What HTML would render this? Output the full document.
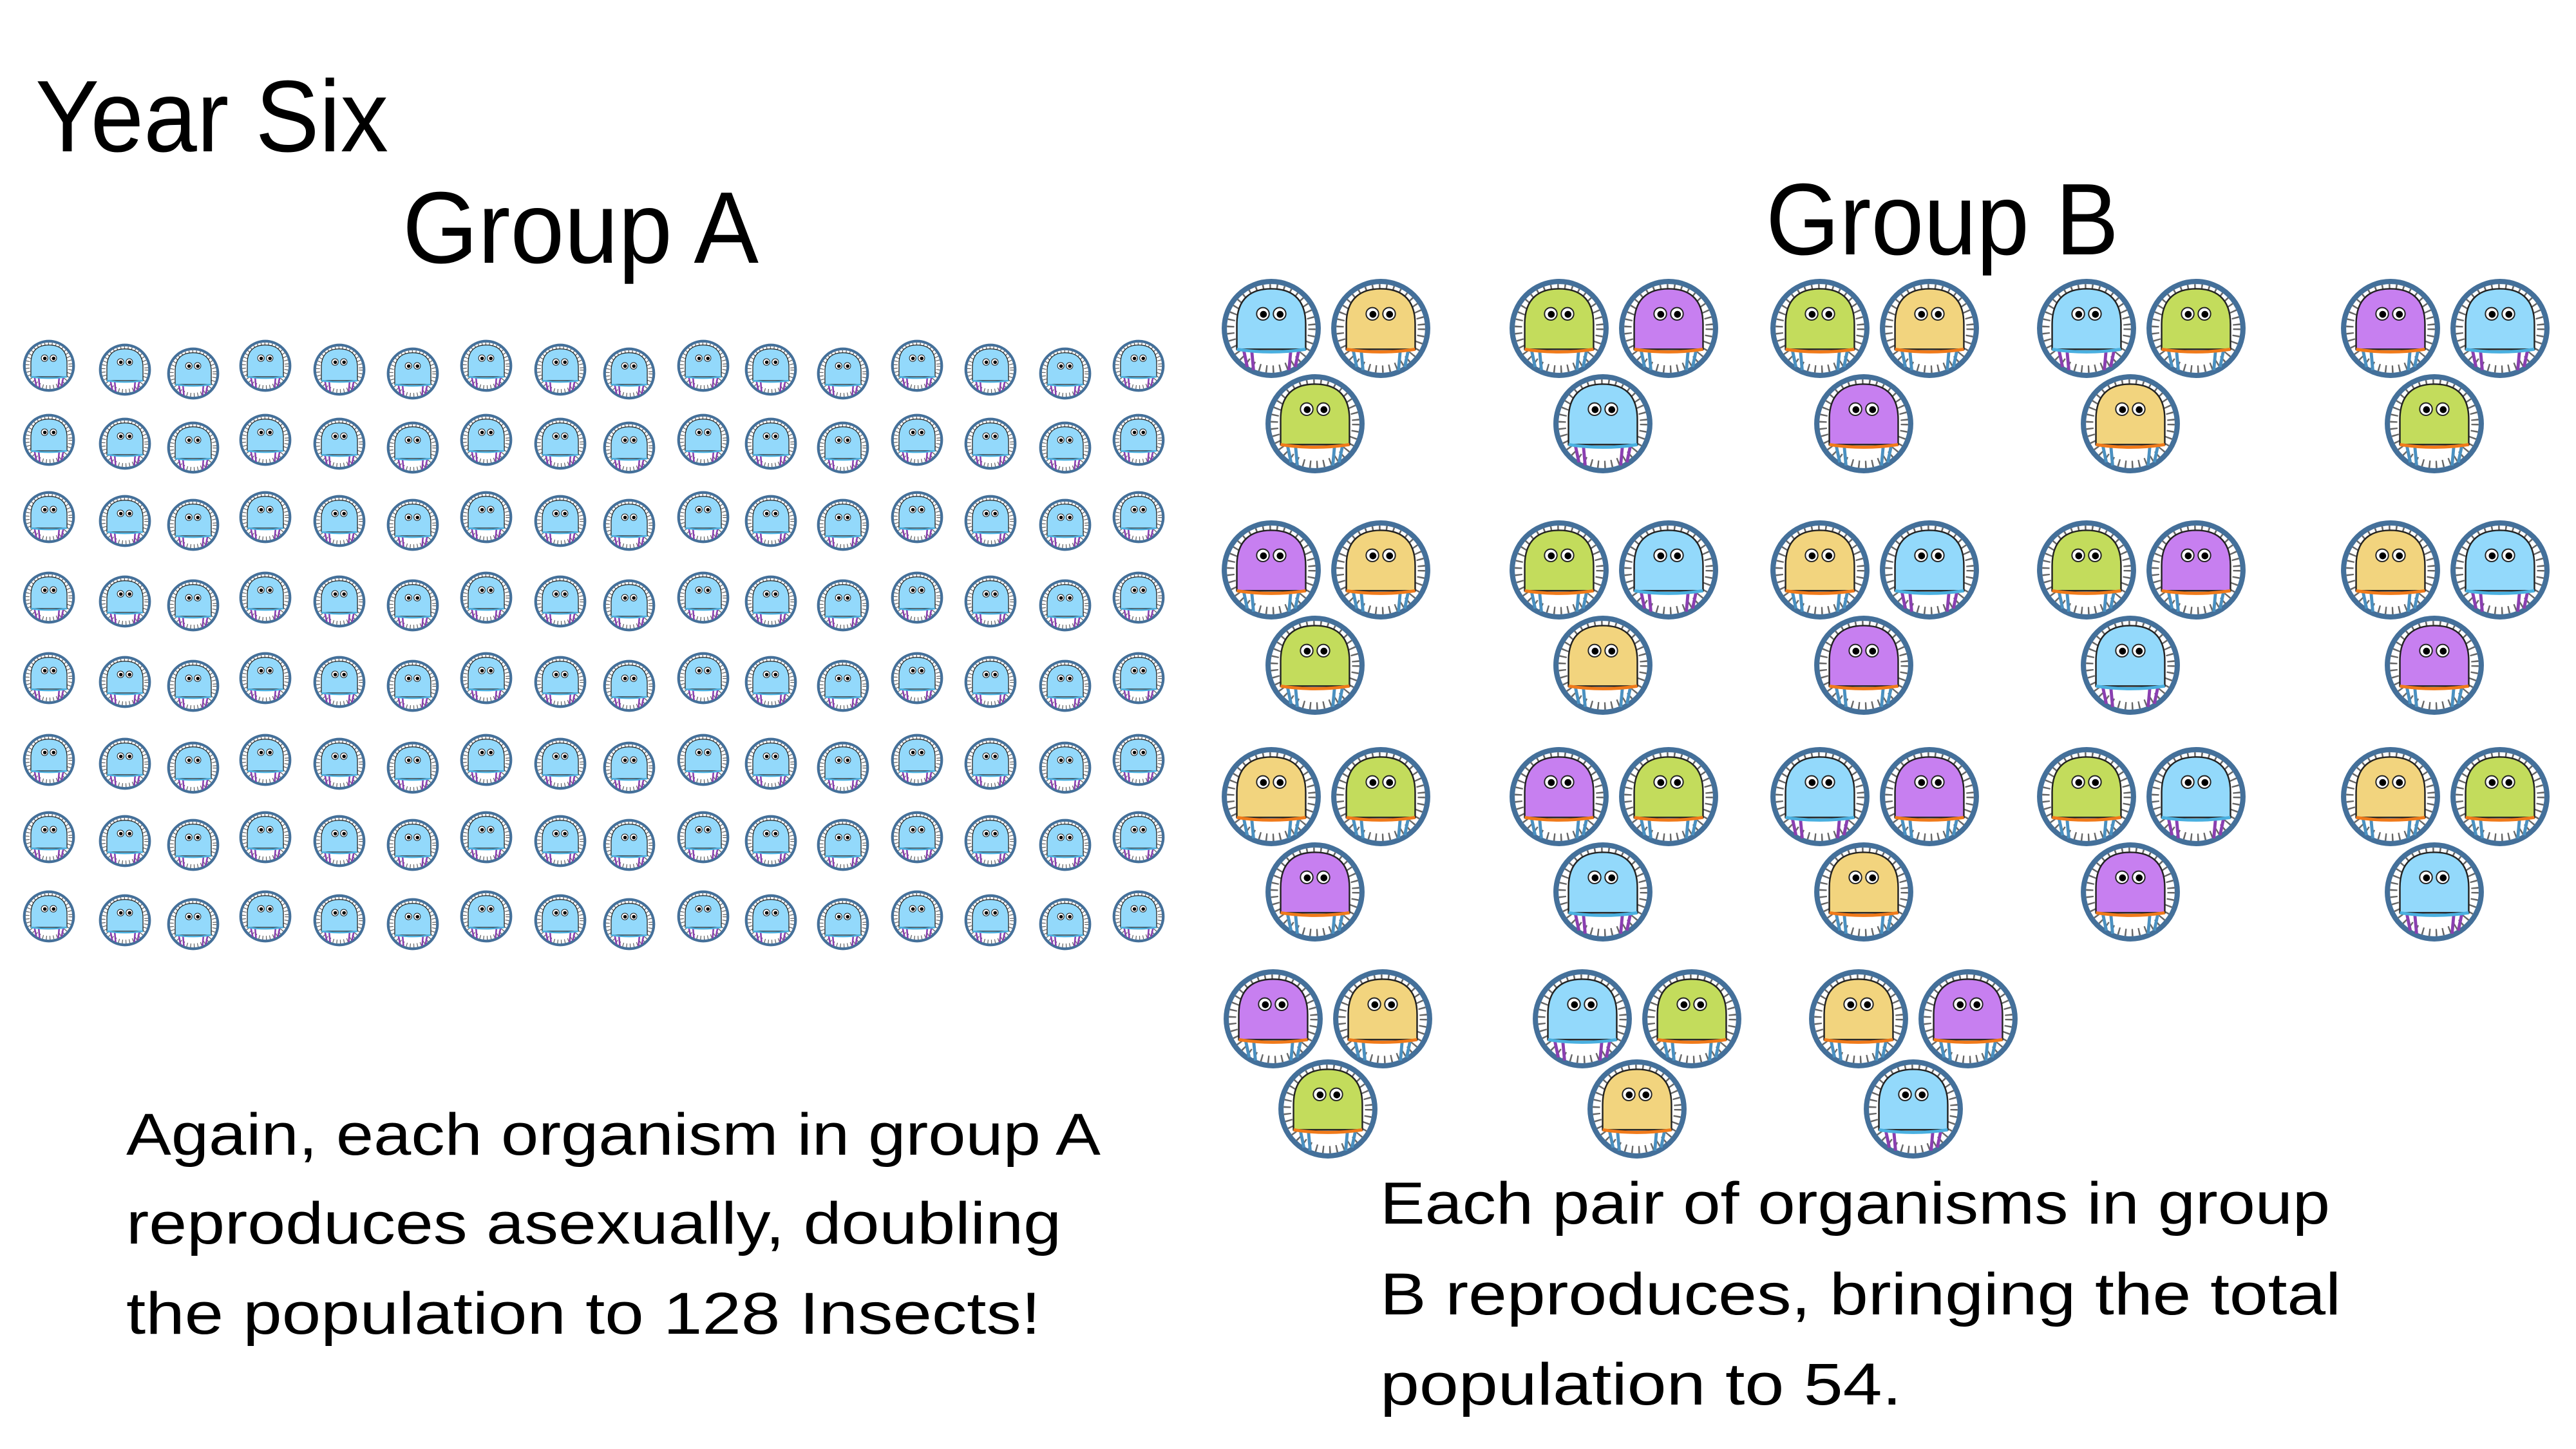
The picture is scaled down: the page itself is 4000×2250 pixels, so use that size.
<!DOCTYPE html>
<html><head><meta charset="utf-8">
<style>
html,body{margin:0;padding:0;background:#fff;width:4000px;height:2250px;overflow:hidden}
svg{display:block}
text{font-family:"Liberation Sans",sans-serif;fill:#000}
</style></head>
<body>
<svg id="s" xmlns="http://www.w3.org/2000/svg" xmlns:xlink="http://www.w3.org/1999/xlink" width="4000" height="2250" viewBox="0 0 4000 2250">
<defs>
<g id="hatch">
  <circle r="40" fill="none" stroke="#777" stroke-width="6" stroke-dasharray="2 5"/>
</g>
<g id="bugbase">
  <circle r="45" fill="#fff" stroke="#44709a" stroke-width="5"/>
  <use xlink:href="#hatch"/>
  <g stroke-width="2.5" fill="none">
    <line x1="-27" y1="18" x2="-22" y2="38" class="leg"/>
    <line x1="-20" y1="18" x2="-17" y2="40" class="leg"/>
    <line x1="20" y1="18" x2="17" y2="40" class="leg"/>
    <line x1="27" y1="18" x2="22" y2="38" class="leg"/>
  </g>
</g>
</defs>
<text x="55" y="235" font-size="158" textLength="548" lengthAdjust="spacingAndGlyphs">Year Six</text>
<text x="625" y="408" font-size="158" textLength="553" lengthAdjust="spacingAndGlyphs">Group A</text>
<text x="2742" y="395" font-size="158" textLength="548" lengthAdjust="spacingAndGlyphs">Group B</text>
<g font-size="92">
<text x="196" y="1793" textLength="1513" lengthAdjust="spacingAndGlyphs">Again, each organism in group A</text>
<text x="196" y="1931" textLength="1452" lengthAdjust="spacingAndGlyphs">reproduces asexually, doubling</text>
<text x="196" y="2071" textLength="1420" lengthAdjust="spacingAndGlyphs">the population to 128 Insects!</text>
<text x="2143" y="1900" textLength="1475" lengthAdjust="spacingAndGlyphs">Each pair of organisms in group</text>
<text x="2143" y="2041" textLength="1492" lengthAdjust="spacingAndGlyphs">B reproduces, bringing the total</text>
<text x="2143" y="2181" textLength="810" lengthAdjust="spacingAndGlyphs">population to 54.</text>
</g>
<g id="bugs"></g>
</svg>
<script>
(function(){
var NS="http://www.w3.org/2000/svg";
var C={B:"#93d9fb",Y:"#f2d47e",G:"#c3dc5c",P:"#c77ff0"};
var L={B:"#8a3fb0",Y:"#4a90c0",G:"#4a90c0",P:"#4a90c0"};
var U={B:"#4ab0e0",Y:"#f07a1a",G:"#f07a1a",P:"#f07a1a"};
var html="";
function bug(x,y,s,c){
  var col=C[c];
  html+='<g transform="translate('+x+','+y+') scale('+s+')">'+
  '<circle r="45" fill="#fff" stroke="#44709a" stroke-width="5"/>'+
  '<circle r="39" fill="none" stroke="#666" stroke-width="7" stroke-dasharray="1.5 5"/>'+
  '<g stroke="'+L[c]+'" stroke-width="3"><line x1="-27" y1="18" x2="-23" y2="37"/><line x1="-19" y1="18" x2="-17" y2="40"/><line x1="19" y1="18" x2="17" y2="40"/><line x1="27" y1="18" x2="23" y2="37"/></g>'+
  '<path d="M-33,20 L-33,-4 C-33,-30 -18,-38 0,-38 C18,-38 33,-30 33,-4 L33,20 Z" fill="'+col+'" stroke="#222" stroke-width="1.5"/>'+
  '<path d="M-33,20 Q0,25 33,20" fill="none" stroke="'+U[c]+'" stroke-width="3"/>'+
  '<circle cx="-8" cy="-14" r="6" fill="#fff" stroke="#222" stroke-width="1.2"/><circle cx="8" cy="-14" r="6" fill="#fff" stroke="#222" stroke-width="1.2"/>'+
  '<circle cx="-7.5" cy="-13.5" r="3.3" fill="#000"/><circle cx="8.5" cy="-13.5" r="3.3" fill="#000"/>'+
  '</g>';
}
var xs=[76,194,300,412,527,641,755,870,977,1092,1197,1309,1424,1538,1654,1768];
var ys=[574,689,809,934,1059,1186,1306,1429];
for(var r=0;r<8;r++)for(var c=0;c<16;c++){bug(xs[c],ys[r]+((c%3)-1)*6,0.85,"B");}
var cx=[1974,2421,2826,3240,3712];
var cy=[510,885,1237];
var pats=[["BYG","GPB","GYP","BGY","PBG"],["PYG","GBY","YBP","GPB","YBP"],["YGP","PGB","BPY","GBP","YGB"]];
var s=1.62;
for(var r=0;r<3;r++)for(var c=0;c<5;c++){
  var p=pats[r][c],x=cx[c],y=cy[r];
  bug(x,y,s,p[0]);bug(x+170,y,s,p[1]);bug(x+68,y+148,s,p[2]);
}
var r4x=[1977,2457,2886],r4p=["PYG","BGY","YPB"];
for(var c=0;c<3;c++){var x=r4x[c],y=1582,p=r4p[c];bug(x,y,s,p[0]);bug(x+170,y,s,p[1]);bug(x+85,y+140,s,p[2]);}
document.getElementById("bugs").innerHTML=html;
})();
</script>
</body></html>
